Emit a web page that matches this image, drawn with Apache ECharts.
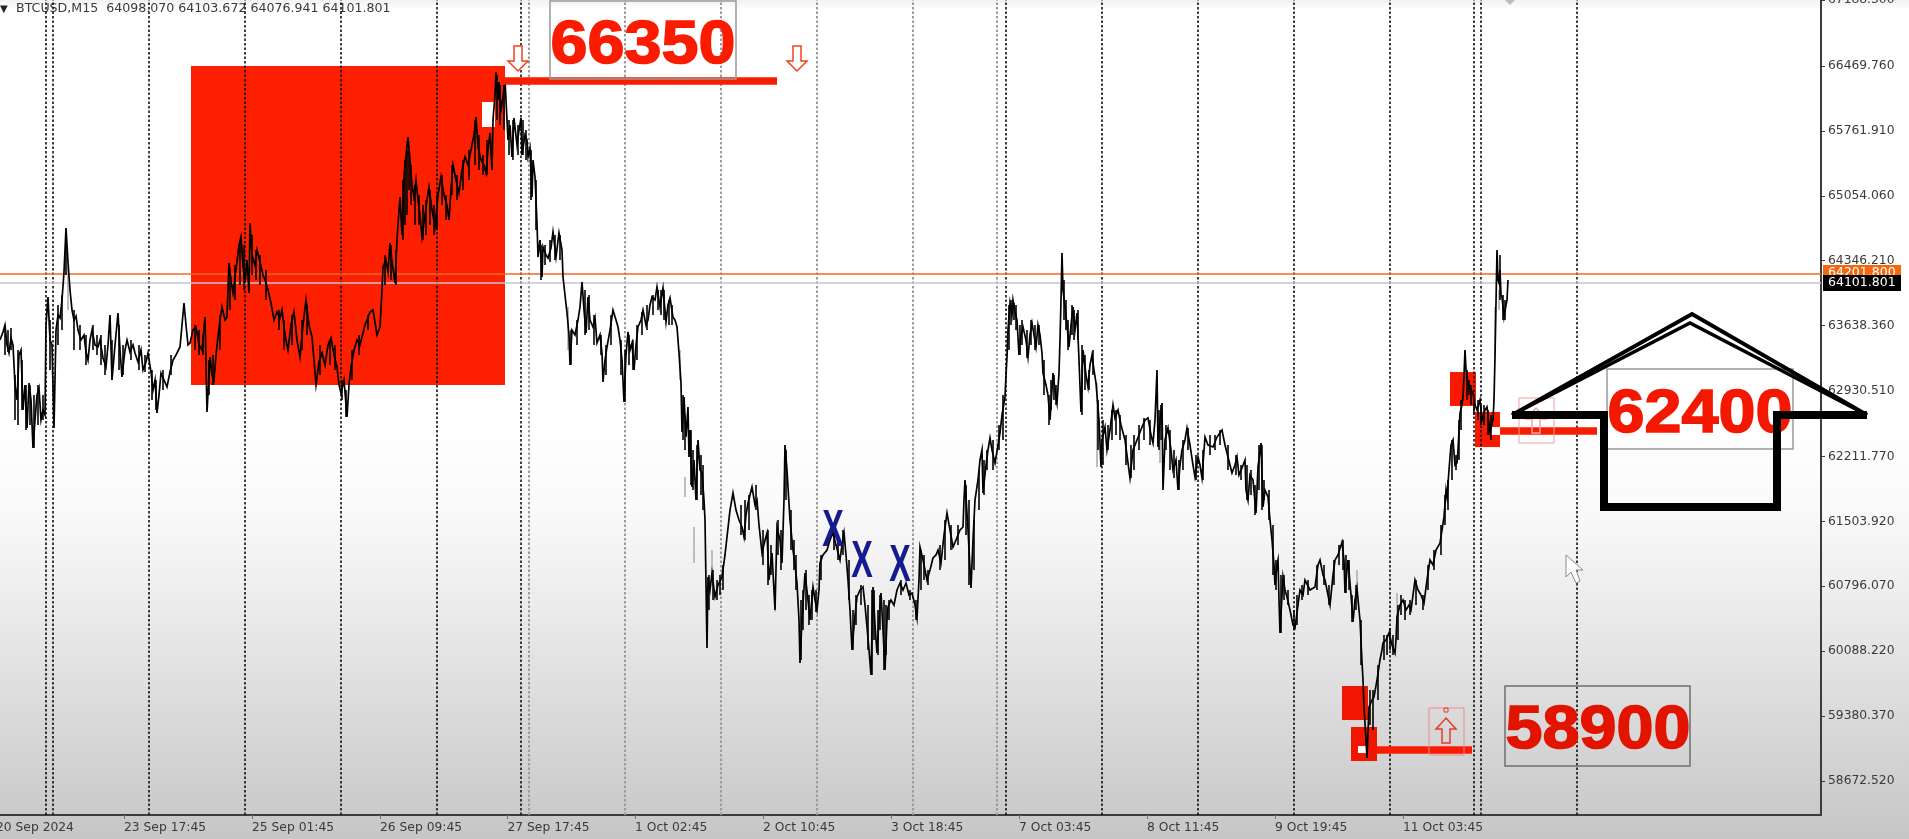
<!DOCTYPE html>
<html><head><meta charset="utf-8">
<script src="https://cdn.jsdelivr.net/npm/echarts@6/dist/echarts.min.js"></script>
<style>html,body{margin:0;padding:0;background:#fff;overflow:hidden}#c{width:1909px;height:839px}</style>
</head><body><div id="c"></div>
<script>
const bars = [0,3,5,7,9,11,13,15,17,19,21,23,25,27,29,31,33,35,37,39,41,43,45,46,48,50,52,54,56,58,60,62,64,66,68,70,72,74,76,78,81,84,86,88,90,92,95,98,100,103,106,108,110,112,115,118,120,122,125,127,130,133,135,138,141,143,146,148,151,153,155,157,159,161,164,167,170,173,176,180,182,184,186,188,190,193,196,199,202,205,207,210,212,214,216,218,220,222,225,227,229,231,233,236,239,241,243,245,247,249,250,252,255,257,260,263,265,268,271,274,277,280,282,285,288,291,294,297,300,303,306,309,312,314,316,319,322,325,328,331,334,337,339,341,344,347,349,351,354,357,360,363,365,367,370,373,377,380,382,383,386,388,390,392,395,397,398,400,402,404,406,408,410,412,414,416,418,420,422,425,427,429,432,435,438,441,444,447,449,451,453,456,459,462,465,468,471,474,476,478,481,484,486,488,490,492,493,495,496,498,499,501,503,505,
508,510,512,514,517,519,521,522,525,527,528,530,532,533,535,537,538,540,542,543,546,548,551,553,556,559,562,563,565,567,569,570,572,575,578,580,582,584,586,588,590,593,595,597,600,602,603,605,607,610,613,616,618,620,622,624,626,628,630,632,634,636,638,641,643,646,648,650,652,655,657,660,663,666,668,670,673,675,677,679,681,682,684,686,688,689,690,692,694,696,698,700,702,704,705,707,708,710,712,715,718,722,725,727,730,733,736,739,742,744,746,748,750,752,755,757,759,762,765,767,769,772,775,777,780,782,784,785,787,788,790,793,795,797,799,800,802,805,808,810,813,815,817,819,820,823,827,830,833,836,840,842,844,846,848,850,852,855,857,860,863,865,867,869,871,873,875,877,879,881,883,885,887,888,891,894,897,900,903,906,909,912,915,917,919,920,923,925,927,930,933,936,938,941,944,947,950,953,956,960,963,964,965,968,971,973,975,978,980,982,983,986,988,990,992,995,998,1000,1002,1005,1006,1007,1008,1010,1012,1013,1015,1017,1019,1021,1023,1026,1028,1030,1032,1034,1036,1038,1040,1042,1043,1046,1048,1050,1052,1053,1055,1057,1059,1060,1061,1062,1063,1065,1067,1069,1071,1073,1075,1077,1079,1081,1083,1086,1088,1090,1092,1094,1096,1097,1099,1101,1102,1105,1107,1110,1113,1115,1118,1121,1125,1127,1130,1133,1137,1142,1145,1148,1151,1153,1155,1157,1158,1160,1162,1163,1165,1168,1171,1173,1176,1178,1180,1182,1185,1187,1190,1193,1195,1198,1200,1202,1205,1208,1213,1217,1222,1225,1227,1230,1232,1235,1237,1239,1242,1245,1246,1248,1250,1253,1256,1257,1258,1261,1263,1265,1268,1270,1272,1274,1275,1277,1278,1279,1280,1283,1285,1287,1290,1293,1295,1298,1300,1303,1305,1310,1315,1318,1320,1323,1325,1328,1330,1333,1335,1338,1342,1344,1345,1347,1348,1351,1353,1355,1357,1359,1360,1362,1363,1364,1366,1367,1369,1372,1374,1377,1380,1382,1383,1386,1389,1392,1395,1396,1397,1400,1403,1406,1409,1411,1413,1415,1418,1421,1424,1427,1430,1433,1436,1440,1442,1444,1446,1447,1449,1451,1453,1455,1457,1458,1460,1462,1463,1464,1465,1466,1468,1470,1473,1475,1477,1480,1482,1485,1487,1490,1493,1494,1495,1496,1497,1498,1499,1500,1501,1502,1504,1506,1507,1508];
const closes = [63481,63569,63645,63427,63339,63503,63427,62991,62827,63318,63372,62718,62991,62522,63012,62827,62304,62609,62881,62958,62609,62718,62663,63645,63950,63481,63427,62522,63590,63754,63721,63917,64223,64703,64332,64027,63808,63699,63743,63590,63481,63536,63350,63263,63481,63590,63427,63405,63481,63285,63187,63427,63754,63045,63427,63776,63372,63078,63372,63481,63350,63427,63339,63241,63372,63154,63241,63339,63132,62936,63045,62685,62881,63121,63045,62969,63132,63263,63318,63405,63645,63885,63645,63427,63449,63590,63623,63427,63372,63732,62696,63296,63100,63045,63318,63514,63699,63841,63699,63732,64321,64136,63994,64245,64517,64605,64299,64103,64354,63994,64757,64408,64299,64463,64332,64190,64136,64027,63885,63699,63787,63721,63808,63536,63372,63645,63787,63481,63296,63645,63917,63645,63514,63263,62991,63241,63339,63209,63427,63503,63318,63187,62991,62903,63045,62642,62991,63187,63372,63481,63427,63558,63645,63699,63787,63808,63536,63623,64027,64277,64354,64223,64539,64332,64103,64572,64735,65041,64626,65281,65499,65695,65444,65171,65041,65226,65008,64844,64605,64844,65008,65150,64899,64714,65063,65259,65063,64953,64790,65117,65390,65226,65084,65335,65477,65390,65553,65717,65913,65586,65444,65390,65303,65553,65739,65335,65880,66153,66404,66098,66295,65989,66131,66317,
65662,65826,65477,65902,65608,65771,65902,65499,65717,65662,65477,65575,65041,65444,65259,64757,64386,64572,64168,64496,64408,64376,64485,64659,64386,64648,64463,64168,63972,63776,63536,63209,63590,63536,63699,63841,64114,63808,63558,63950,63699,63623,63721,63449,63536,63339,63023,63263,63405,63590,63808,63699,63623,63481,63263,62805,63318,63569,63372,63449,63154,63427,63623,63699,63808,63645,63699,63863,63950,63917,64059,63841,64048,63678,63863,63939,63732,63699,63623,63339,63012,62478,62860,62424,62751,62205,62500,61878,62173,61736,62391,62064,62031,61736,61518,60123,60897,60755,60940,60679,60810,60897,61137,61333,61627,61813,61627,61518,61442,61333,61573,61704,61791,61878,61682,61736,61464,61159,61300,61377,60864,61159,60537,61442,61300,61050,61736,62336,62064,61878,61518,61191,61027,60831,60428,59959,60428,60940,60646,60428,60788,60646,60537,60755,61050,61137,61191,61300,61377,61246,61082,61246,61377,61137,60864,60537,60101,60482,60679,60755,60788,60591,60352,60101,59828,60788,60373,60068,60428,60722,60319,59883,60428,60570,60646,60591,60755,60831,60755,60831,60700,60722,60591,60450,60864,61224,61082,60973,60864,60973,61104,61137,61191,61050,61355,61595,61409,61224,61300,61409,61442,61736,61955,61409,60777,61300,61736,61955,62173,62282,61813,62118,62282,62413,62282,62140,62336,62467,62663,62860,63100,63296,63590,63885,63754,63917,63787,63699,63318,63536,63623,63481,63296,63536,63667,63536,63405,63645,63536,63339,63121,62991,62881,62609,62936,63121,62936,62794,63121,63481,63917,64430,64027,63841,63645,63405,63645,63841,63590,63776,63263,62696,63372,63100,62969,63209,63318,63154,63012,62881,62609,62096,62391,62532,62282,62500,62772,62631,62718,62554,62391,62227,61976,62282,62391,62532,62609,62631,62445,62358,62609,63154,62315,62609,62794,61845,62391,62522,62282,62064,62173,61845,62118,62282,62391,62522,62336,62118,61987,62205,62118,61976,62423,62336,62315,62423,62500,62336,62249,62118,62031,62118,62205,62009,62085,62173,61845,61736,62009,61955,61595,61845,62096,62358,61660,61845,61769,61518,61300,61028,60809,61028,61082,60646,60286,60897,60755,60679,60537,60373,60341,60591,60755,60700,60864,60755,60788,61028,61082,60918,60864,60700,60591,60918,61082,61137,61278,61082,60722,60973,61082,60700,60406,60646,60777,60537,60428,59970,59773,59479,59119,58923,59479,59555,59588,59773,59992,60101,60177,60210,60286,60155,60068,60210,60461,60591,60646,60537,60591,60537,60700,60864,60755,60700,60613,60864,61082,61028,61191,61267,61409,61551,61845,61769,62064,62336,62391,62118,62140,62282,62685,62772,62860,63100,63372,63154,63012,62958,62903,62772,62718,62827,62609,62718,62751,62478,62609,62827,63296,63885,64463,64136,64103,64245,63972,63950,63732,63863,63917,64135];
const wickBars = [5,8,11,15,18,22,26,30,34,38,43,50,58,62,66,74,80,86,93,97,101,105,112,119,123,131,139,145,152,156,163,171,195,199,203,209,213,220,230,235,240,244,252,256,260,266,279,284,292,302,307,320,330,335,342,346,352,359,368,385,391,396,403,405,407,409,411,415,419,423,426,430,434,437,442,446,452,457,463,469,475,479,483,487,497,500,504,509,513,518,523,526,531,536,541,545,550,555,560,571,577,585,589,594,601,606,611,621,625,629,633,637,642,647,653,658,661,664,669,672,683,685,691,693,697,701,703,709,713,717,720,723,741,745,749,756,763,768,771,778,781,786,791,794,796,801,803,806,809,812,816,821,834,838,843,849,853,856,861,868,872,874,878,880,884,886,889,901,910,916,921,924,928,940,945,951,958,966,969,974,979,984,987,993,999,1003,1009,1011,1014,1016,1020,1022,1027,1031,1035,1039,1044,1049,1051,1054,1056,1064,1066,1068,1072,1074,1078,1082,1085,1089,1093,1098,1103,1108,1112,1116,1120,1126,1131,1134,1139,1144,1150,1159,1161,1166,1170,1174,1179,1183,1188,1196,1203,1210,1215,1220,1228,1236,1241,1247,1251,1255,1259,1262,1264,1269,1273,1276,1281,1284,1288,1294,1297,1302,1308,1317,1324,1329,1334,1339,1343,1346,1349,1352,1356,1361,1370,1373,1378,1384,1387,1390,1393,1398,1401,1405,1410,1416,1423,1428,1434,1441,1445,1448,1452,1456,1459,1461,1467,1469,1471,1474,1478,1481,1484,1488,1491,1500,1503,1505];
const wickHighs = [63645,63590,63612,63100,63372,63263,62991,62991,62881,62991,62881,63699,63863,63972,64572,63808,63645,63536,63645,63536,63536,63427,63481,63645,63427,63481,63427,63318,63154,63045,63154,63318,63645,63590,63536,63263,63318,63754,64245,64299,64572,64517,64626,64463,64408,64245,63808,63699,63754,63699,63863,63427,63481,63427,63045,62936,63372,63536,63754,64408,64517,64463,65226,65444,65553,65553,65390,65171,65063,64953,65008,65117,64953,65063,65281,65063,65390,65281,65444,65553,65880,65717,65499,65662,66371,66262,66262,65880,65880,65826,65880,65771,65553,65226,64517,64517,64572,64626,64626,63590,63699,64027,63972,63754,63536,63427,63754,63481,63372,63536,63481,63645,63787,63863,63972,64027,64027,64027,63917,63863,62881,62663,62500,62282,62336,62227,62118,60919,60973,60864,60919,61028,61682,61736,61791,61900,61409,61409,61246,61518,61409,62282,61627,61300,61137,60646,60755,60973,60700,60755,60755,61137,61464,61355,61409,61082,60537,60700,60809,60591,60755,60755,60537,60700,60646,60591,60646,60864,60755,60646,61191,61137,60973,61246,61518,61464,61464,61900,61736,61518,62064,62173,62282,62391,62554,62881,63863,63917,63885,63863,63645,63699,63590,63699,63645,63645,63263,62881,63045,63100,62991,64135,63917,63699,63863,63808,63808,63427,63318,63154,63372,62827,62609,62554,62718,62718,62663,62445,62336,62445,62554,62631,62609,62718,62772,62554,62500,62282,62173,62391,62522,62227,62282,62445,62445,62500,62336,62227,62118,62118,62064,61900,62336,62336,61955,61845,61464,61082,60919,60919,60755,60537,60700,60809,60864,61028,61028,60809,61082,61246,61300,61137,61082,60700,60809,60428,59665,59665,59937,60264,60264,60341,60264,60591,60700,60646,60646,60864,60700,61028,61191,61464,61791,61955,62391,62227,62609,62827,63154,63045,62991,62881,62827,62772,62772,62718,62663,64408,63972,63917];
const wickLows = [63318,63350,63372,62609,62554,62718,62500,62554,62304,62554,62609,63154,63427,63590,64190,63372,63372,63209,63372,63318,63209,63100,63045,63154,63100,63263,63154,63132,62827,62718,62936,63100,63372,63318,63318,62881,62991,63372,63808,63917,64081,64027,64190,64135,64081,63917,63590,63372,63427,63372,63536,63100,63209,63154,62827,62642,63045,63318,63590,64081,64135,64081,64572,64735,64844,65117,64953,64735,64735,64572,64626,64735,64626,64681,64953,64790,65063,65008,65117,65226,65390,65335,65281,65281,65880,65826,65771,65499,65444,65499,65499,65444,65008,64681,64135,64299,64332,64354,64354,63209,63427,63536,63590,63427,63318,63100,63427,63100,62805,63209,63154,63263,63536,63590,63754,63808,63754,63699,63645,63645,62391,62282,61900,61845,61736,61791,61627,60537,60646,60646,60700,60755,61355,61300,61409,61627,61028,60809,60919,61137,60973,61736,61191,60973,60755,59992,60319,60537,60373,60428,60515,60864,61191,61082,61137,60646,60101,60373,60591,60101,59828,60210,60046,60319,59883,60046,60428,60700,60646,60428,60755,60864,60809,60973,61082,61191,61246,61355,60809,60973,61627,61791,62064,62064,62282,62391,63372,63645,63699,63590,63318,63427,63285,63427,63372,63427,62881,62554,62718,62827,62772,63699,63590,63372,63536,63481,63481,62663,62936,62936,63100,62282,62118,62282,62391,62445,62391,62118,61976,62064,62282,62391,62336,62282,62391,62282,62064,61976,61845,62064,62282,61955,61955,62227,62282,62336,62064,62009,61955,61736,61791,61573,61845,61627,61736,61518,60919,60755,60286,60646,60591,60319,60373,60646,60700,60755,60809,60591,60809,61028,60973,60722,60755,60406,60537,59937,59283,59228,59555,59992,60046,60101,60046,60210,60482,60428,60482,60591,60537,60755,60973,61137,61464,61627,61955,62064,62173,62500,62827,62881,62772,62663,62609,62554,62554,62445,62391,63917,63699,63699];
const ghostBars = [68,531,568,680,685,694,712,775,1097,1160,1357,1397,1465,1495,1499];
const ghostHighs = [64299,65553,63841,63372,61987,61442,61191,60646,63012,62391,60973,60722,63372,63841,64027];
const ghostLows = [63808,65008,63372,63045,61769,61050,60897,60515,62096,62140,60613,60352,63121,63296,63808];
const priceTicks = [67188.3,66469.76,65761.91,65054.06,64346.21,63638.36,62930.51,62211.77,61503.92,60796.07,60088.22,59380.37,58672.52];
const timeTickBars = [-4,124,252,380,507.5,635,763,891,1019,1147,1275,1403];
const timeTickLabels = ['20 Sep 2024','23 Sep 17:45','25 Sep 01:45','26 Sep 09:45','27 Sep 17:45','1 Oct 02:45','2 Oct 10:45','3 Oct 18:45','7 Oct 03:45','8 Oct 11:45','9 Oct 19:45','11 Oct 03:45'];
const sessionBarsDark = [46,53,149,245,341,437,521,1006,1102,1198,1294,1390,1474,1481,1577];
const sessionBarsFaded = [529,625,721,817,913,997];
const bidPrice = 64101.801, askPrice = 64201.8;
const FONT='"DejaVu Sans"', BIG='"Liberation Sans"';

const zone=(x0,p0,x1,p1,color)=>[{xAxis:x0,yAxis:p0,itemStyle:{color,opacity:1,borderWidth:0}},{xAxis:x1,yAxis:p1}];
const level=(x0,x1,p)=>[{coord:[x0,p]},{coord:[x1,p]}];
const box=(x,y,w,h,stroke,lw,z)=>({type:'rect',shape:{x,y,width:w,height:h},style:{fill:'none',stroke,lineWidth:lw},z:z||6,silent:true});
const bigLabel=(t,x,y,c)=>({type:'text',x,y,z:7,silent:true,scaleX:1.09,style:{text:t,font:'bold 61px '+BIG,fill:c,stroke:c,lineWidth:1.6,textAlign:'center',textVerticalAlign:'middle'}});
const arrowDown=(x,y)=>({type:'polygon',z:6,silent:true,shape:{points:[[x+6,y],[x+14,y],[x+14,y+15],[x+20,y+15],[x+10,y+25],[x,y+15],[x+6,y+15]]},style:{fill:'#fff',stroke:'#f2401e',lineWidth:1.5}});
const arrowUp=(x,y,c)=>({type:'polygon',z:6,silent:true,shape:{points:[[x+10,y],[x+20,y+11],[x+14,y+11],[x+14,y+25],[x+6,y+25],[x+6,y+11],[x,y+11]]},style:{fill:'none',stroke:c,lineWidth:1.5}});
const stroke=(pts,w)=>({type:'polyline',z:8,silent:true,shape:{points:pts},style:{fill:'none',stroke:'#000',lineWidth:w,lineJoin:'miter'}});
const cross=(x,y)=>({type:'text',x,y,z:7,silent:true,scaleX:0.62,style:{text:'X',font:'bold 52px '+BIG,fill:'#151a8e',textAlign:'center',textVerticalAlign:'middle'}});
const wickSeries=(name,bs,hs,ls,color,width,z)=>({name,type:'custom',z,silent:true,clip:true,encode:{x:0,y:[1,2]},
  data:bs.map((b,i)=>[b,hs[i],ls[i]]),
  renderItem:(p,api)=>{const a=api.coord([api.value(0),api.value(1)]),c=api.coord([api.value(0),api.value(2)]);
    return {type:'line',shape:{x1:a[0],y1:a[1],x2:c[0],y2:c[1]},style:{stroke:color,lineWidth:width}};}});

const chart=echarts.init(document.getElementById('c'));
chart.setOption({
  animation:false,
  backgroundColor:{type:'linear',x:0,y:0,x2:0,y2:1,colorStops:[
    {offset:0,color:'#f2f2f2'},{offset:0.012,color:'#ffffff'},{offset:0.5,color:'#ffffff'},{offset:0.6,color:'#fafafa'},{offset:0.72,color:'#ececec'},{offset:0.86,color:'#d9d9d9'},{offset:1,color:'#c6c6c6'}]},
  grid:{left:-4,right:88,top:0,bottom:24,containLabel:false,outerBoundsMode:'none'},
  xAxis:{type:'value',min:-4,max:1821,splitLine:{show:false},
    axisLine:{show:true,onZero:false,lineStyle:{color:'#3c3c3c',width:2}},
    axisTick:{show:true,length:4,lineStyle:{color:'#777'},customValues:timeTickBars},
    axisLabel:{show:true,customValues:timeTickBars,margin:7,align:'left',fontFamily:FONT,fontSize:12.3,color:'#3a3a3a',
      formatter:v=>timeTickLabels[timeTickBars.indexOf(v)]||''}},
  yAxis:{type:'value',position:'right',min:58301.4,max:67189,splitLine:{show:false},
    axisLine:{show:true,onZero:false,lineStyle:{color:'#3c3c3c',width:2}},
    axisTick:{show:true,length:4,lineStyle:{color:'#3c3c3c'},customValues:priceTicks},
    axisLabel:{show:true,customValues:priceTicks,margin:7,fontFamily:FONT,fontSize:12.3,color:'#3a3a3a',formatter:v=>v.toFixed(3)}},
  series:[
    {name:'zones',type:'line',data:[],silent:true,markArea:{silent:true,z:1,data:[
      zone(191,66469,505,62990,'#fc2000'),
      zone(482,66077,495,65804,'#ffffff'),
      zone(1342,59708,1368,59337,'#f01600'),
      zone(1351,59261,1377,58890,'#f01600'),
      zone(1358,59054,1366,58977,'#ffffff'),
      zone(1450,63132,1476,62762,'#fa1800'),
      zone(1475,62696,1500,62314,'#fa1800'),
      zone(1490,62532,1500,62445,'#ffffff')]}},
    {name:'sessions',type:'line',data:[],silent:true,markLine:{silent:true,z:1.5,symbol:'none',label:{show:false},precision:3,data:[
      ...sessionBarsDark.map(v=>({xAxis:v,lineStyle:{color:'#111',width:1.6,type:[2.5,2]}})),
      ...sessionBarsFaded.map(v=>({xAxis:v,lineStyle:{color:'#9c9c9c',width:2,type:[2.5,2]}})),
      {yAxis:bidPrice,lineStyle:{color:'#c4c4cc',width:1.5,type:'solid'}},
      {yAxis:askPrice,lineStyle:{color:'#f0682a',width:1.5,type:'solid'}}]}},
    wickSeries('ghost',ghostBars,ghostHighs,ghostLows,'#bdbdbd',2,1.8),
    wickSeries('wicks',wickBars,wickHighs,wickLows,'#000',1.6,2),
    {name:'BTCUSD',type:'line',z:2,showSymbol:false,symbol:'none',sampling:false,lineStyle:{color:'#000',width:1.7,join:'miter'},
      data:bars.map((b,i)=>[b,closes[i]])},
    {name:'levels',type:'line',data:[],silent:true,markLine:{silent:true,z:5,symbol:'none',label:{show:false},precision:3,lineStyle:{type:'solid',color:'#f81c00',width:7.5},data:[
      level(503,777,66311),
      level(1377,1472,59016),
      level(1500,1597,62489)]}}
  ],
  graphic:{elements:[
    {type:'text',x:0,y:9,z:1,silent:true,style:{text:'▼',font:'10px '+FONT,fill:'#222',textVerticalAlign:'middle'}},
    {type:'text',x:16,y:9,z:1,silent:true,style:{text:'BTCUSD,M15  64098.070 64103.672 64076.941 64101.801',font:'12.6px '+FONT,fill:'#3a3a3a',textVerticalAlign:'middle'}},
    {type:'polygon',z:3,silent:true,shape:{points:[[1505,0],[1515,0],[1510,5]]},style:{fill:'#bdbdbd'}},
    box(550,1,186,78,'#999',1.5),
    bigLabel('66350',643,46,'#fb1c00'),
    arrowDown(508,46),arrowDown(787,46),
    box(1607,369,186,80,'#999',1.5),
    bigLabel('62400',1700,415,'#f41800'),
    box(1519,398,35,45,'#f2a0a0',1),
    arrowUp(1526,408,'#f2a0a0'),
    box(1429,708,35,47,'#ee8a8a',1),
    arrowUp(1436,718,'#e8382a'),
    {type:'rect',z:6,silent:true,shape:{x:1444,y:708,width:4,height:4},style:{fill:'none',stroke:'#e8382a',lineWidth:1}},
    box(1505,686,185,80,'#6f6f6f',1.5),
    bigLabel('58900',1598,731,'#e21400'),
    cross(833,532),cross(862,563),cross(900,567),
    stroke([[1512,415],[1604,415]],8),
    stroke([[1604,411],[1604,507],[1777,507],[1777,411]],8),
    stroke([[1773,415],[1867,415]],8),
    stroke([[1512,415],[1692,314],[1867,415]],4),
    stroke([[1512,415],[1690,323],[1867,415]],3.5),
    {type:'polygon',z:9,silent:true,shape:{points:[[1566,555],[1566,577],[1571,572],[1576,583],[1580,581],[1576,570],[1583,570]]},style:{fill:'#fff',stroke:'#8a8a8a',lineWidth:1}},
    {type:'rect',z:9,silent:true,shape:{x:1823,y:265,width:78,height:10},style:{fill:'#f3680f'}},
    {type:'text',x:1828,y:273,z:9,silent:true,style:{text:'64201.800',font:'12.5px '+FONT,fill:'#fff',textVerticalAlign:'middle'}},
    {type:'rect',z:10,silent:true,shape:{x:1823,y:275,width:78,height:16},style:{fill:'#000'}},
    {type:'text',x:1828,y:283,z:10,silent:true,style:{text:'64101.801',font:'12.5px '+FONT,fill:'#fff',textVerticalAlign:'middle'}}
  ]}
});
</script></body></html>
